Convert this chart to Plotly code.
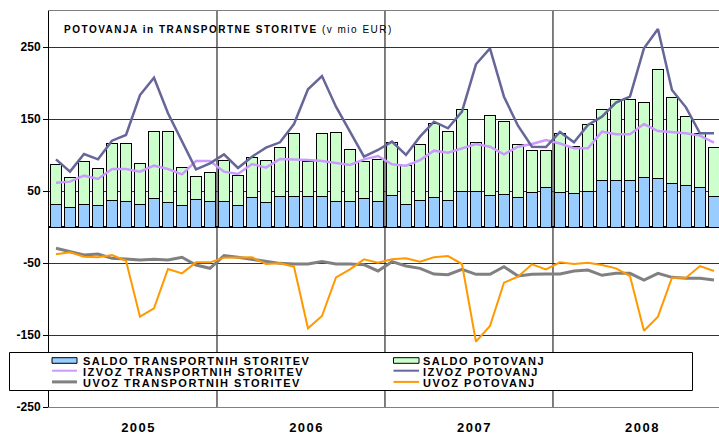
import plotly.graph_objects as go

years = ["2005", "2006", "2007", "2008"]
months = [f"{y}-{m:02d}" for y in years for m in range(1, 13)]

saldo_transport = [31.5, 27.4, 31.5, 29.2, 36.6, 36.1, 30.6, 38.9, 33.8, 29.2, 38.4, 35.2,
                   35.6, 30.0, 41.2, 34.3, 42.6, 42.6, 41.7, 42.6, 35.6, 35.2, 38.9, 36.1,
                   43.7, 31.0, 37.0, 40.7, 37.0, 50.0, 50.0, 44.4, 45.8, 40.7, 48.6, 55.1,
                   48.1, 47.2, 49.5, 64.8, 64.4, 63.9, 69.4, 67.6, 61.1, 57.4, 55.1, 42.1]
saldo_potovanj = [55.0, 41.1, 59.2, 51.4, 79.6, 79.6, 57.8, 93.5, 99.1, 53.2, 31.5, 40.5,
                  56.9, 41.5, 55.6, 57.8, 68.1, 87.0, 49.5, 86.6, 96.3, 73.1, 52.3, 57.9,
                  73.2, 55.1, 77.4, 103.3, 96.3, 113.4, 67.1, 110.2, 101.0, 73.7, 57.4, 51.4,
                  81.9, 64.6, 92.2, 98.1, 112.5, 112.5, 103.7, 150.9, 119.0, 95.8, 75.0, 68.6]
izvoz_transport = [61.6, 63.0, 71.3, 66.7, 80.6, 80.6, 76.9, 85.2, 80.6, 73.1, 91.7, 91.7,
                   76.9, 73.6, 87.5, 82.4, 94.4, 94.0, 93.0, 91.7, 88.4, 86.1, 94.0, 98.6,
                   87.0, 85.2, 93.0, 106.0, 103.2, 109.3, 115.3, 111.6, 100.9, 111.6, 115.3, 120.8,
                   116.0, 109.3, 109.3, 132.4, 128.7, 128.7, 143.0, 133.3, 131.5, 130.1, 126.9, 117.1]
izvoz_potovanj = [94.0, 76.9, 101.4, 94.0, 119.9, 127.8, 183.3, 207.4, 157.9, 118.5, 80.1, 88.4,
                  100.9, 82.0, 97.7, 110.2, 117.6, 143.0, 191.2, 209.7, 167.1, 132.4, 97.7, 107.0,
                  118.5, 100.0, 125.5, 146.3, 137.1, 160.2, 226.0, 248.1, 181.0, 140.7, 111.6, 111.1,
                  132.0, 117.6, 141.7, 153.2, 172.7, 181.0, 248.1, 275.0, 190.3, 166.2, 130.1, 130.1]
uvoz_transport = [-29.6, -34.3, -38.9, -37.5, -43.5, -44.4, -45.8, -44.9, -45.8, -42.1, -52.8, -57.4,
                  -39.8, -42.1, -44.9, -48.1, -50.5, -51.4, -51.4, -48.1, -51.4, -51.4, -52.3, -61.1,
                  -48.1, -54.2, -57.4, -65.3, -66.2, -58.8, -65.7, -65.7, -55.1, -68.1, -65.7, -65.3,
                  -65.3, -61.1, -59.7, -67.1, -64.4, -64.4, -73.6, -64.4, -69.9, -71.3, -71.3, -73.6]
uvoz_potovanj = [-38.0, -35.2, -41.2, -42.1, -38.9, -46.8, -124.5, -113.0, -58.3, -64.4, -49.1, -49.1,
                 -42.6, -42.1, -42.1, -51.4, -50.5, -55.1, -140.7, -123.6, -69.9, -58.8, -44.9, -49.5,
                 -44.9, -43.5, -48.1, -42.1, -40.3, -51.4, -159.3, -137.5, -77.3, -69.0, -51.9, -58.8,
                 -49.1, -51.4, -49.5, -52.8, -57.4, -68.1, -144.0, -124.5, -70.4, -70.4, -54.2, -61.1]

y_ticks = [250, 150, 50, -50, -150, -250]
names = ["SALDO TRANSPORTNIH STORITEV", "SALDO POTOVANJ",
         "IZVOZ TRANSPORTNIH STORITEV", "IZVOZ POTOVANJ",
         "UVOZ TRANSPORTNIH STORITEV", "UVOZ POTOVANJ"]
title = "POTOVANJA in TRANSPORTNE STORITVE"
unit = "(v mio EUR)"

FONT = "Liberation Sans, Arial, sans-serif"
W, H = 719, 434
ML, MR, MT, MB = 49, 0, 11, 27
PW, PH = W - ML - MR, H - MT - MB


def px(x):
    return (x - ML) / PW


def py(y):
    return (H - MB - y) / PH


def ls(t, s=1.5):
    return f'<span style="letter-spacing:{s}px">{t}</span>'


x = list(range(len(months)))
fig = go.Figure()
fig.add_trace(go.Bar(x=x, y=saldo_transport, name=names[0], marker=dict(color="#99CCFF", line=dict(color="#000000", width=1))))
fig.add_trace(go.Bar(x=x, y=saldo_potovanj, name=names[1], marker=dict(color="#CCFFCC", line=dict(color="#000000", width=1))))
fig.add_trace(go.Scatter(x=x, y=izvoz_transport, name=names[2], mode="lines", line=dict(color="#CC99FF", width=2.5)))
fig.add_trace(go.Scatter(x=x, y=izvoz_potovanj, name=names[3], mode="lines", line=dict(color="#666699", width=2.5)))
fig.add_trace(go.Scatter(x=x, y=uvoz_transport, name=names[4], mode="lines", line=dict(color="#808080", width=3)))
fig.add_trace(go.Scatter(x=x, y=uvoz_potovanj, name=names[5], mode="lines", line=dict(color="#FF9900", width=2)))

shapes = []
for k in range(1, len(years)):
    shapes.append(dict(type="line", xref="x", yref="paper", x0=12 * k - 0.5, x1=12 * k - 0.5,
                       y0=0, y1=1, line=dict(color="#000000", width=1), layer="below"))

# legend box
shapes.append(dict(type="rect", xref="paper", yref="paper", x0=px(9.5), x1=px(692.5), y0=py(390.5), y1=py(352.5),
                   fillcolor="#FFFFFF", line=dict(color="#000000", width=1), layer="above"))
rows = [360.5, 371.7, 382.9]
cols = [(52, 77, 80.5), (393.5, 419, 420.5)]
sym = [("rect", "#99CCFF", 0), ("rect", "#CCFFCC", 0), ("line", "#CC99FF", 2), ("line", "#666699", 2),
       ("line", "#808080", 3), ("line", "#FF9900", 2)]
annotations = []
for i, nm in enumerate(names):
    r, c = divmod(i, 2)
    x0, x1, xt = cols[c]
    yc = rows[r]
    kind, col, wdt = sym[i]
    if kind == "rect":
        shapes.append(dict(type="rect", xref="paper", yref="paper", x0=px(x0), x1=px(x1),
                           y0=py(yc + 2.8), y1=py(yc - 2.8), fillcolor=col,
                           line=dict(color="#000000", width=1), layer="above"))
    else:
        shapes.append(dict(type="line", xref="paper", yref="paper", x0=px(x0), x1=px(x1),
                           y0=py(yc - 1), y1=py(yc - 1), line=dict(color=col, width=wdt), layer="above"))
    annotations.append(dict(xref="paper", yref="paper", x=px(xt), y=py(yc), xanchor="left", yanchor="middle",
                            text=ls(nm), showarrow=False,
                            font=dict(family=FONT, size=11, color="#000000", weight="bold")))

annotations.append(dict(xref="paper", yref="paper", x=px(62), y=py(29.3), xanchor="left", yanchor="middle",
                        text=ls(f"<b>{title}</b> {unit}"), showarrow=False,
                        font=dict(family=FONT, size=10, color="#000000")))

fig.update_layout(
    width=W, height=H,
    margin=dict(l=ML, r=MR, t=MT, b=MB, pad=0),
    paper_bgcolor="#FFFFFF", plot_bgcolor="#FFFFFF",
    barmode="stack", bargap=0.28,
    showlegend=False,
    shapes=shapes, annotations=annotations,
    xaxis=dict(range=[-0.5, 47.36], showgrid=False, zeroline=False,
               showline=True, mirror=True, linecolor="#808080", linewidth=1,
               ticks="", tickvals=[12 * k + 5.9 for k in range(len(years))],
               ticktext=[ls(yv) for yv in years],
               tickfont=dict(family=FONT, size=13, color="#000000", weight="bold"),
               ticklabelstandoff=8),
    yaxis=dict(range=[-250, 300], tickvals=y_ticks, ticktext=[str(v) for v in y_ticks],
               showgrid=True, gridcolor="#333333", gridwidth=1,
               zeroline=True, zerolinecolor="#000000", zerolinewidth=1.5,
               showline=True, linecolor="#000000", linewidth=1,
               ticks="outside", ticklen=5, tickcolor="#000000",
               tickfont=dict(family=FONT, size=12, color="#000000", weight="bold")),
)

fig.write_html("out.html", config={"displayModeBar": False},
               post_script="document.body.style.margin='0';")
